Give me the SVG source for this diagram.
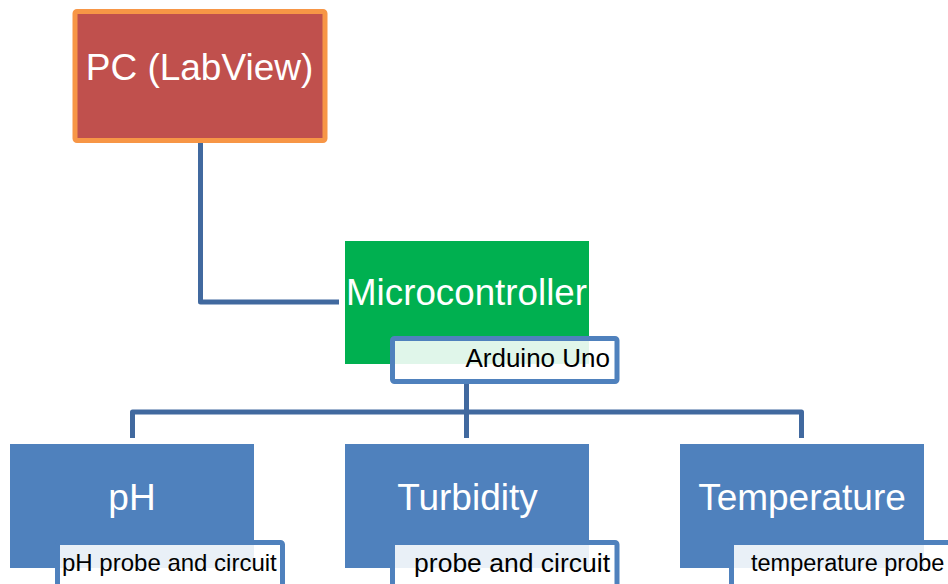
<svg xmlns="http://www.w3.org/2000/svg" width="948" height="584" viewBox="0 0 948 584">
<style>
.conn{fill:none;stroke:#41699F;stroke-width:5;stroke-linejoin:round;stroke-linecap:butt}
.big{font-family:"Liberation Sans",Arial,sans-serif;font-size:37px;fill:#ffffff;text-anchor:middle}
.sub{font-family:"Liberation Sans",Arial,sans-serif;fill:#000000}
.blue{fill:#4F81BD}
.subbox{fill:#ffffff;fill-opacity:0.88;stroke:#4F81BD;stroke-width:5}
</style>
<rect width="948" height="584" fill="#ffffff"/>
<g id="connectors">
<path class="conn" d="M200.5 141 V302 H339"/>
<path class="conn" d="M466.5 384 V438"/>
<path class="conn" d="M132.5 438 V412 H801.5 V438"/>
</g>
<g id="pc">
<rect x="75" y="11.5" width="250" height="129" rx="2" fill="#C0504D" stroke="#F79646" stroke-width="5"/>
<text class="big" x="199.5" y="80">PC (LabView)</text>
</g>
<g id="microcontroller">
<rect x="345" y="241" width="244" height="123" fill="#00B050"/>
<text class="big" x="466.5" y="305" textLength="241" lengthAdjust="spacingAndGlyphs">Microcontroller</text>
</g>
<g id="arduino">
<rect class="subbox" x="392.5" y="338.5" width="224.5" height="43" rx="2"/>
<text class="sub" x="610" y="367" font-size="26" text-anchor="end">Arduino Uno</text>
</g>
<g id="ph">
<rect class="blue" x="10" y="444" width="244" height="124"/>
<text class="big" x="132" y="510">pH</text>
</g>
<g id="ph-sub">
<rect class="subbox" x="57.5" y="542.5" width="225" height="50" rx="2"/>
<text class="sub" x="62" y="571" font-size="24">pH probe and circuit</text>
</g>
<g id="turbidity">
<rect class="blue" x="345" y="444" width="244" height="124"/>
<text class="big" x="467.5" y="510">Turbidity</text>
</g>
<g id="turbidity-sub">
<rect class="subbox" x="392.5" y="542.5" width="224.5" height="50" rx="2"/>
<text class="sub" x="610" y="572" font-size="26.5" text-anchor="end">probe and circuit</text>
</g>
<g id="temperature">
<rect class="blue" x="680" y="444" width="244" height="124"/>
<text class="big" x="802" y="510">Temperature</text>
</g>
<g id="temperature-sub">
<rect class="subbox" x="731.5" y="542.5" width="230" height="50" rx="2"/>
<text class="sub" x="751" y="571" font-size="23.5">temperature probe</text>
</g>
</svg>
